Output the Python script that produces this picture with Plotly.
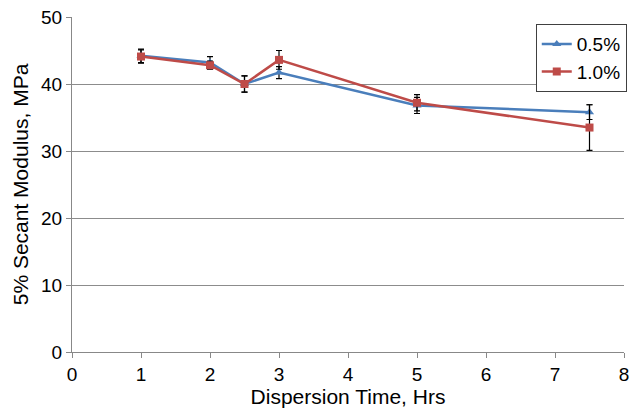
import plotly.graph_objects as go

x_vals = [1, 2, 2.5, 3, 5, 7.5]
s05 = [44.2, 43.2, 40.0, 41.7, 36.8, 35.8]
s05_err = [1.0, 0.9, 1.2, 0.9, 1.2, 1.1]
s10 = [44.1, 42.8, 40.0, 43.6, 37.2, 33.5]
s10_err = [1.0, 0.6, 1.2, 1.4, 1.2, 3.4]
names = ["0.5%", "1.0%"]
colors = ["#4a7ebb", "#be4b48"]

fig = go.Figure()
fig.add_trace(go.Scatter(
    x=x_vals, y=s05, name=names[0], mode="lines+markers",
    line=dict(color=colors[0], width=2.5),
    marker=dict(symbol="triangle-up", size=8, color=colors[0]),
    error_y=dict(type="data", array=s05_err, color="black", thickness=1.2, width=3),
))
fig.add_trace(go.Scatter(
    x=x_vals, y=s10, name=names[1], mode="lines+markers",
    line=dict(color=colors[1], width=2.5),
    marker=dict(symbol="square", size=8, color=colors[1]),
    error_y=dict(type="data", array=s10_err, color="black", thickness=1.2, width=3),
))

font_family = "Liberation Sans, Arial, sans-serif"
fig.update_layout(
    width=630, height=409,
    margin=dict(l=72, r=6, t=17, b=57, autoexpand=False),
    paper_bgcolor="white", plot_bgcolor="white",
    font=dict(family=font_family, size=19, color="black"),
    showlegend=True,
    legend=dict(x=1.005, y=0.979, xanchor="right", yanchor="top",
                bordercolor="#404040", borderwidth=1, bgcolor="white",
                font=dict(size=19), tracegroupgap=0, itemwidth=30),
    xaxis=dict(range=[0, 8], dtick=1, tick0=0, showgrid=False,
               showline=True, linecolor="#888888", linewidth=1,
               ticks="outside", ticklen=5, tickcolor="#888888",
               zeroline=False, tickfont=dict(size=19),
               title=dict(text="Dispersion Time, Hrs", font=dict(size=21), standoff=3)),
    yaxis=dict(range=[0, 50], dtick=10, tick0=0, showgrid=True,
               gridcolor="#8c8c8c", gridwidth=1,
               showline=True, linecolor="#888888", linewidth=1,
               ticks="outside", ticklen=5, tickcolor="#888888",
               zeroline=False, tickfont=dict(size=19),
               title=dict(text="5% Secant Modulus, MPa", font=dict(size=21), standoff=6)),
)

fig.write_html("out.html", config={"displayModeBar": False},
               post_script="document.body.style.margin='0px';document.body.style.overflow='hidden';")
